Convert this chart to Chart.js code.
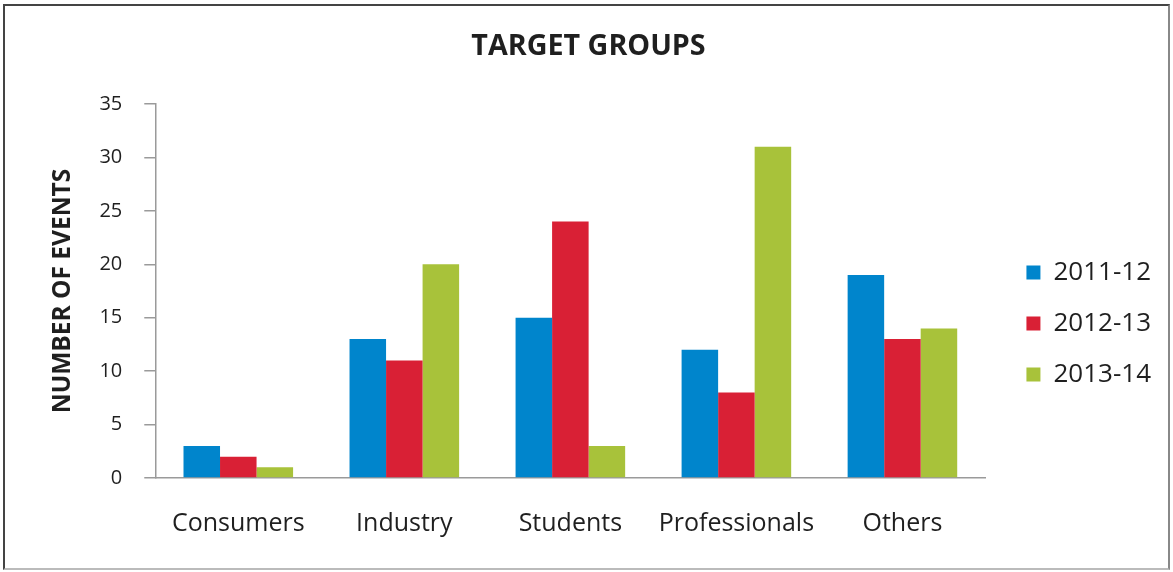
<!DOCTYPE html>
<html>
<head>
<meta charset="utf-8">
<script src="https://cdn.jsdelivr.net/npm/chart.js@4"></script>
<style>
  html, body { margin: 0; padding: 0; background: #fff; }
  #wrap { position: absolute; left: 0; top: 0; width: 1173px; height: 572px; }
  #frame { position: absolute; left: 3px; top: 4px; width: 1163px; height: 562px;
           border: 2px solid #444; border-bottom-color: #bbb; border-right-color: #888; pointer-events: none; }
</style>
</head>
<body>
<div id="wrap"><canvas id="c" width="1173" height="572"></canvas></div>
<div id="frame"></div>
<script>
const categories = ["Consumers", "Industry", "Students", "Professionals", "Others"];
const seriesNames = ["2011-12", "2012-13", "2013-14"];
const values2011 = [3, 13, 15, 12, 19];
const values2012 = [2, 11, 24, 8, 13];
const values2013 = [1, 20, 3, 31, 14];
const yTicks = [0, 5, 10, 15, 20, 25, 30, 35];
const colors = ["#0085CC", "#D92035", "#A8C23A"];

const FONT = "'Open Sans', Lato, sans-serif";
const TEXT = "#1f1f1f";

new Chart(document.getElementById('c'), {
  type: 'bar',
  data: {
    labels: categories,
    datasets: [values2011, values2012, values2013].map((v, i) => ({
      label: seriesNames[i],
      data: v,
      backgroundColor: colors[i],
      borderWidth: 0,
      categoryPercentage: 0.66,
      barPercentage: 1.0
    }))
  },
  options: {
    responsive: false,
    animation: false,
    devicePixelRatio: 1,
    layout: { padding: { left: 16, top: 10, right: 12, bottom: 3 } },
    plugins: {
      title: {
        display: true,
        text: 'TARGET GROUPS',
        color: TEXT,
        font: { family: FONT, size: 28.7, weight: 'bold' },
        padding: { top: 20, bottom: 39.5 }
      },
      legend: {
        position: 'right',
        title: { display: true, text: ' ', font: { size: 10 }, padding: { top: 28, bottom: 28 } },
        labels: {
          color: TEXT,
          font: { family: FONT, size: 26 },
          boxWidth: 14,
          boxHeight: 14,
          padding: 25
        }
      },
      tooltip: { enabled: false }
    },
    scales: {
      x: {
        grid: { display: false, drawTicks: false },
        border: { display: true, color: '#9a9a9a', width: 1.5 },
        ticks: { color: TEXT, font: { family: FONT, size: 25 }, padding: 30.5, maxRotation: 0 }
      },
      y: {
        min: 0, max: 35,
        afterBuildTicks: (s) => { s.ticks = yTicks.map(v => ({ value: v })); },
        grid: { display: true, drawOnChartArea: false, drawTicks: true, tickLength: 11, color: '#9a9a9a', lineWidth: 1.5 },
        border: { display: true, color: '#9a9a9a', width: 1.5 },
        ticks: { color: TEXT, font: { family: FONT, size: 20 }, padding: 22 },
        title: {
          display: true,
          text: 'NUMBER OF EVENTS',
          color: TEXT,
          font: { family: FONT, size: 24.5, weight: 'bold' },
          padding: { top: 32, bottom: 0 }
        }
      },
      yPad: {
        position: 'right',
        display: true,
        grid: { display: false, drawTicks: false },
        border: { display: false },
        ticks: { display: false },
        afterFit: (s) => { s.width = 16; }
      }
    }
  }
});
</script>
</body>
</html>
